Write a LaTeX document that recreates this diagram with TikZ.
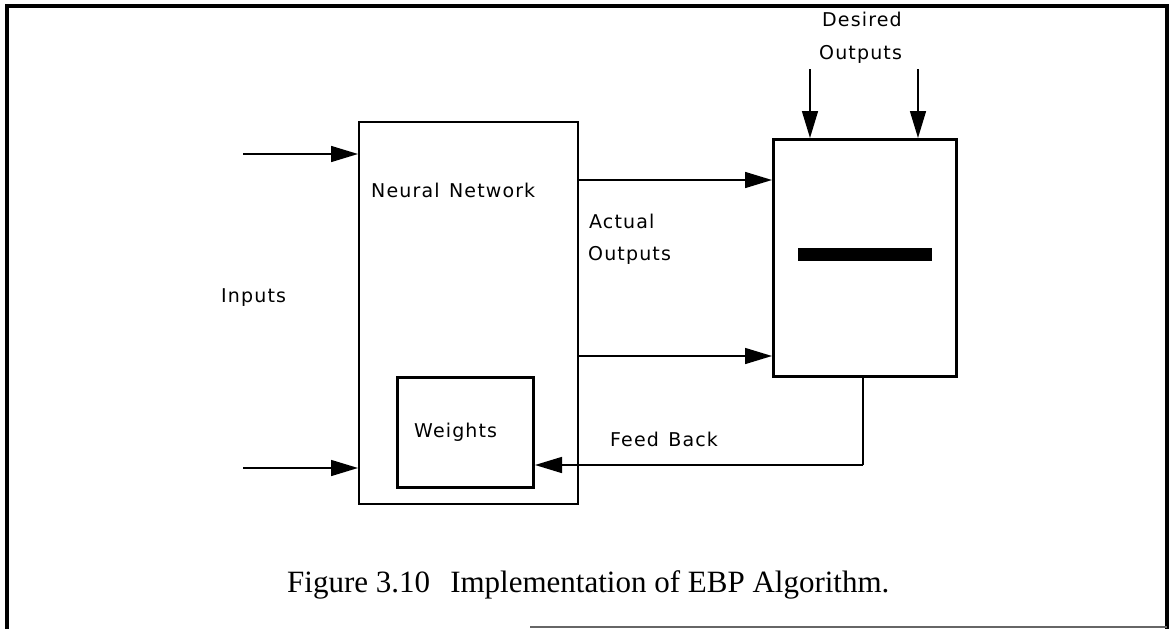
\documentclass[tikz,border=0pt]{standalone}
\usepackage{fontspec}
\setmainfont{Liberation Serif}
\newfontfamily\cadfont[LetterSpace=6]{DejaVu Sans}
\usetikzlibrary{arrows.meta}

\tikzset{
  frameline/.style={line width=3.5pt, line cap=rect},
  block/.style={draw, line width=1.5pt, inner sep=0pt, anchor=north west},
  heavyblock/.style={draw, line width=3pt, inner sep=0pt, anchor=north west},
  barbox/.style={fill=black, inner sep=0pt, anchor=north west},
  arr/.style={line width=1.5pt, -{Triangle[length=27pt, width=16pt]}},
  wire/.style={line width=1.5pt},
  lbl/.style={font=\cadfont\fontsize{19}{22}\selectfont, inner sep=0pt, anchor=base west},
  caption/.style={font=\fontsize{31}{36}\selectfont, inner sep=0pt, anchor=base west}
}

\begin{document}
\begin{tikzpicture}[x=1pt, y=-1pt]
  \useasboundingbox (0,0) rectangle (1171,629);

  % outer frame, its bottom edge only partly printed
  \draw[frameline] (7,629) -- (7,6) -- (1167,6) -- (1167,629);
  \draw[line width=1.2pt, black!60] (530,627) -- (1167,627);

  % blocks
  \node[block, minimum width=219pt, minimum height=382pt] (nn) at (358,121) {};
  \node[heavyblock, minimum width=136pt, minimum height=110pt] (wts) at (396,376) {};
  \node[heavyblock, minimum width=183pt, minimum height=237pt] (cmp) at (772,138) {};
  \node[barbox, minimum width=134pt, minimum height=13pt] (bar) at (798,248) {};

  % labels
  \node[lbl] (tin) at (221,302) {Inputs};
  \node[lbl] (tnn) at (371,197) {Neural\hspace{0.5em}Network};
  \node[lbl] (tact) at (589,228) {Actual};
  \node[lbl] (tout) at (588,260) {Outputs};
  \node[lbl] (tdes) at (822,27) {Desired};
  \node[lbl] (tdout) at (819,59) {Outputs};
  \node[lbl] (twts) at (414,437) {Weights};
  \node[lbl] (tfb) at (610,446) {Feed\hspace{0.5em}Back};
  \node[caption] (cap) at (287,592) {Figure 3.10\hspace{0.4em} Implementation of EBP Algorithm.};

  % free ends of the connectors
  \coordinate (in1) at (243,154);
  \coordinate (in2) at (243,468);
  \coordinate (ao1) at (0,180);
  \coordinate (ao2) at (0,356);
  \coordinate (d1) at (810,69);
  \coordinate (d2) at (918,69);
  \coordinate (fb) at (863,465);

  % inputs into the network
  \draw[arr] (in1) -- (in1 -| nn.west);
  \draw[arr] (in2) -- (in2 -| nn.west);

  % actual outputs into the comparator
  \draw[arr] (nn.east |- ao1) -- (cmp.west |- ao1);
  \draw[arr] (nn.east |- ao2) -- (cmp.west |- ao2);

  % desired outputs
  \draw[arr] (d1) -- (d1 |- cmp.north);
  \draw[arr] (d2) -- (d2 |- cmp.north);

  % feedback to the weights
  \draw[wire] (cmp.south -| fb) -- (fb);
  \draw[arr] (fb) -- (wts.east |- fb);
\end{tikzpicture}
\end{document}
